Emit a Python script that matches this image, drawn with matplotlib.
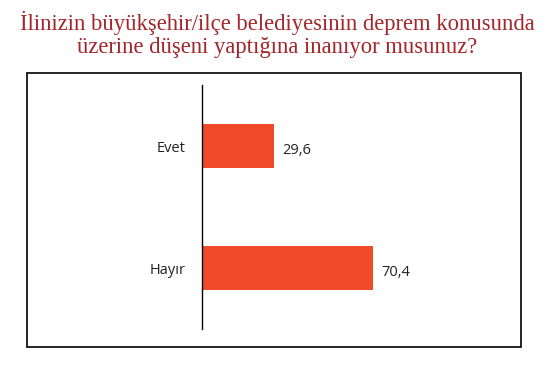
import matplotlib.pyplot as plt
from matplotlib.patches import Rectangle

# data
categories = ["Evet", "Hayır"]
values = [29.6, 70.4]
value_labels = ["29,6", "70,4"]
title = "İlinizin büyükşehir/ilçe belediyesinin deprem konusunda\nüzerine düşeni yaptığına inanıyor musunuz?"

bar_color = "#EF4B2B"
title_color = "#A3262A"

fig = plt.figure(figsize=(5.49, 3.73), dpi=100)

# outer frame around the chart
fig.patches.append(Rectangle((27 / 549, 1 - 347 / 373), 494 / 549, 274 / 373,
                             transform=fig.transFigure, fill=False,
                             edgecolor="black", linewidth=1.2))

fig.text(0.505, 0.97, title, ha="center", va="top", color=title_color,
         fontsize=16.3, family="Liberation Serif", linespacing=1.12)

ax = fig.add_axes([202 / 549, 1 - 329 / 373, 288 / 549, 244 / 373])
ypos = list(range(len(categories)))
ax.barh(ypos, values, height=0.36, color=bar_color)
ax.set_ylim(1.5, -0.5)
ax.set_xlim(0, 118.5)

for y, v, lab in zip(ypos, values, value_labels):
    ax.text(v + 3.5, y + 0.04, lab, va="center", ha="left", fontsize=10.5,
            family="Open Sans", color="#222222")

ax.set_yticks(ypos)
ax.set_yticklabels(categories, fontsize=10.5, family="Open Sans", color="#222222")
ax.tick_params(axis="y", length=0, pad=12)
ax.set_xticks([])
for s in ["top", "right", "bottom"]:
    ax.spines[s].set_visible(False)
ax.spines["left"].set_linewidth(1.0)

fig.savefig("out.png", dpi=100)
